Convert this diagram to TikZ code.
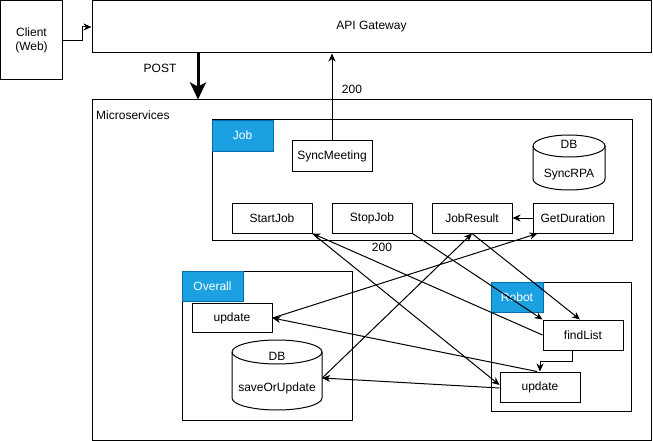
\documentclass[tikz,border=0pt]{standalone}
\usepackage{fontspec}
\setmainfont{Liberation Sans}
\usetikzlibrary{arrows.meta}
\definecolor{tabblue}{RGB}{27,161,226}
\definecolor{tabedge}{RGB}{0,110,175}
\begin{document}
\begin{tikzpicture}[x=1pt,y=-1pt,
  every node/.style={font=\fontsize{12}{14}\selectfont, inner sep=0pt},
  box/.style={draw, line width=1pt, fill=white},
  frame/.style={draw, line width=1pt},
  tab/.style={fill=tabblue, draw=tabedge, line width=0.6pt, text=white},
  lbl/.style={},
  arr/.style={line width=1pt, -{Stealth[length=8pt,width=7pt,inset=2.5pt]}},
  cyl/.style={draw, line width=1pt, fill=white}]
\useasboundingbox (0,0) rectangle (653,441);
% outer boxes
\node[box, minimum width=62pt, minimum height=79pt, align=center] (client) at (31.5,40.5) {Client\\(Web)};
\node[box, minimum width=559pt, minimum height=52pt] (gw) at (371.5,27) {API Gateway};
\node[frame, minimum width=559pt, minimum height=340pt] (micro) at (371.5,270) {};
\node[anchor=west] (mslbl) at (96,115) {Microservices};
% Job group
\node[frame, minimum width=420pt, minimum height=120pt] (jobbox) at (422,180) {};
\node[tab, minimum width=61pt, minimum height=31pt] (jobtab) at (242.5,135.5) {Job};
\node[box, minimum width=80pt, minimum height=30pt] (sync) at (332,156) {SyncMeeting};
\draw[cyl] (533,146) -- (533,179) arc[start angle=180,end angle=360,x radius=36pt,y radius=11pt] -- (605,146) arc[start angle=0,end angle=180,x radius=36pt,y radius=11pt] -- cycle;
\draw[line width=1pt] (533,146) arc[start angle=180,end angle=360,x radius=36pt,y radius=11pt];
\node (syncrpa) at (569,162.5) [minimum width=72pt, minimum height=55pt] {};
\node at (569,144.5) {DB};
\node at (569,175) {SyncRPA};
\node[box, minimum width=80pt, minimum height=30pt] (startjob) at (272,218) {StartJob};
\node[box, minimum width=80pt, minimum height=30pt] (stopjob) at (372,218) {StopJob};
\node[box, minimum width=80pt, minimum height=30pt] (jobres) at (472,218) {JobResult};
\node[box, minimum width=80pt, minimum height=30pt] (getdur) at (573,218) {GetDuration};
% Overall group
\node[frame, minimum width=170pt, minimum height=149pt] (ovbox) at (267,345.5) {};
\node[tab, minimum width=61pt, minimum height=30pt] (ovtab) at (212.5,286) {Overall};
\node[box, minimum width=80pt, minimum height=29pt] (ovupd) at (232,318) {update};
\draw[cyl] (232,352) -- (232,398) arc[start angle=180,end angle=360,x radius=45pt,y radius=12pt] -- (322,352) arc[start angle=0,end angle=180,x radius=45pt,y radius=12pt] -- cycle;
\draw[line width=1pt] (232,352) arc[start angle=180,end angle=360,x radius=45pt,y radius=12pt];
\node (sou) at (277,375) [minimum width=90pt, minimum height=70pt] {};
\node at (277,356) {DB};
\node at (277,388) {saveOrUpdate};
% Robot group
\node[frame, minimum width=140pt, minimum height=129pt] (robox) at (561,346.5) {};
\node[tab, minimum width=52pt, minimum height=30pt] (robtab) at (517,297) {Robot};
\node[box, minimum width=80pt, minimum height=30pt] (findlist) at (583,335) {findList};
\node[box, minimum width=80pt, minimum height=30pt] (robupd) at (540,387) {update};
% top connectors
\coordinate (postx) at (198,0);
\draw[arr] (client.east) -- ++(19,0) |- (gw.west);
\draw[line width=3pt, -{Stealth[length=17pt,width=16pt,inset=4pt]}] (gw.south -| postx) -- (micro.north -| postx);
\node at (160,68) {POST};
\draw[arr] (sync.north) -- (sync.north |- gw.south);
\node at (352,89) {200};
\node at (382,247) {200};
% inner connectors
\draw[arr] (getdur.west) -- (jobres.east);
\draw[arr] (stopjob.south east) -- (findlist.north west);
\draw[arr] (jobres.south) -- ([xshift=-3pt]findlist.north);
\draw[arr] ([yshift=-3pt]sou.east) -- (jobres.south);
\draw[arr] (ovupd.east) -- ([xshift=5pt]getdur.south west);
\draw[arr] (findlist.west) -- (startjob.south east);
\draw[arr] (startjob.south east) -- ([yshift=2pt]robupd.west);
\draw[arr] ([xshift=-3pt]robupd.north) -- (ovupd.east);
\draw[arr] ([yshift=-1pt]robupd.west) -- ([yshift=-3pt]sou.east);
\draw[arr] ([xshift=-11pt]findlist.south) -- ++(0,11) -| (robupd.north);
\end{tikzpicture}
\end{document}
